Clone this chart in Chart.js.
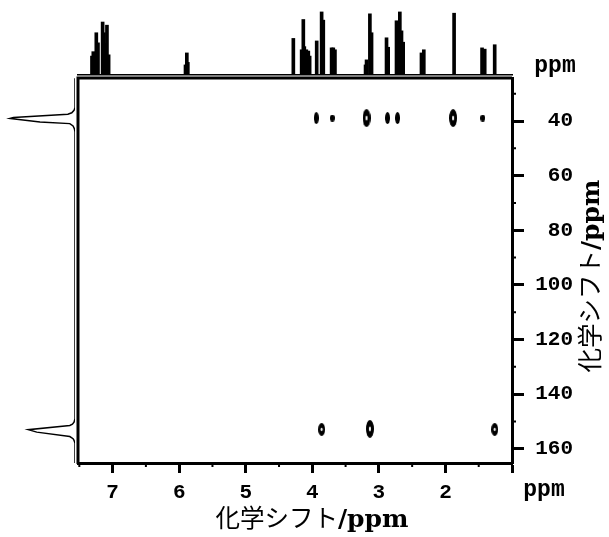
<!DOCTYPE html>
<html>
<head>
<meta charset="utf-8">
<script src="https://cdn.jsdelivr.net/npm/chart.js@4/dist/chart.umd.min.js"></script>
<style>
  html, body { margin: 0; padding: 0; background: #fff; }
  #wrap { position: relative; width: 609px; height: 537px; overflow: hidden; }
  #wrap canvas { position: absolute; left: 0; top: 0; }
</style>
</head>
<body>
<div id="wrap">
  <canvas id="main" width="609" height="537"></canvas>
  <canvas id="projH" width="609" height="80"></canvas>
  <canvas id="projC" width="80" height="537"></canvas>
</div>
<script>
// Axis ranges (ppm): 1H runs right-to-left, 13C runs top-to-bottom
const hRange = [1.0, 7.52];
const cRange = [24.25, 165.2];
const hTickLabels = [7, 6, 5, 4, 3, 2];
const cTickLabels = [40, 60, 80, 100, 120, 140, 160];

// 1H projection: line positions (ppm) and relative heights
const hPeakPpm = [7.31, 7.29, 7.26, 7.245, 7.22, 7.15, 7.13, 7.11, 7.085, 7.06,
                  5.905, 5.885, 5.87,
                  4.285, 4.16, 4.135, 4.12, 4.09, 4.06, 4.04, 3.934, 3.86, 3.835,
                  3.71, 3.685, 3.66,
                  3.20, 3.185, 3.135, 3.11, 2.885, 2.86, 2.735, 2.685, 2.66, 2.635,
                  2.36, 2.325, 1.87, 1.45, 1.41, 1.26];
const hPeakInt = [30, 37, 30, 67, 51, 84, 67, 50, 79, 32,
                  16, 35, 20,
                  58, 40, 88, 45, 40, 38, 30, 54, 100, 87,
                  43, 43, 40,
                  16, 24, 97, 67, 59, 44, 86, 100, 70, 52,
                  35, 40, 98, 43, 41, 48];

// 13C projection trace: shift (ppm) and relative intensity
const cTracePpm = [24.3, 35.0, 36.1, 37.0, 37.5, 38.75, 39.05, 40.35, 40.95, 41.8, 42.8, 44.0,
                   149.0, 150.25, 151.0, 151.45, 153.0, 153.9, 155.5, 156.3, 156.9, 158.0, 165.2];
const cTraceInt = [0, 0, 1.5, 5, 11, 95, 100, 54, 8, 3, 1, 0,
                   0, 1.5, 4, 8, 72, 59, 8, 3, 1.5, 0, 0];

// Cross peaks: 1H shift, 13C shift, contour level
const crossH = [3.94, 3.70, 3.185, 2.87, 2.72, 1.885, 1.44, 3.86, 3.135, 1.26];
const crossC = [38.9, 38.9, 38.9, 38.9, 38.9, 38.9, 38.9, 152.9, 152.7, 152.9];
const crossLevel = [2, 1, 4, 2, 2, 4, 1, 3, 4, 3];

// Contour blob glyphs per level: [width, height, hollow]
const blobShapes = { 1: [5, 7, false], 2: [5, 12, false], 3: [7, 13, true], 4: [8, 18, true] };
function makeBlob(w, h, hollow) {
  const c = document.createElement('canvas');
  c.width = w; c.height = h;
  const g = c.getContext('2d');
  g.fillStyle = '#000';
  g.beginPath(); g.ellipse(w / 2, h / 2, w / 2, h / 2, 0, 0, Math.PI * 2); g.fill();
  if (hollow) {
    g.fillStyle = '#fff';
    g.beginPath(); g.ellipse(w / 2, h / 2, 1, Math.max(1.5, h * 0.14), 0, 0, Math.PI * 2); g.fill();
  }
  return c;
}
const blobCache = {};
Object.keys(blobShapes).forEach(k => { const s = blobShapes[k]; blobCache[k] = makeBlob(s[0], s[1], s[2]); });

const black = '#000';
const tickFont = { family: '"Liberation Mono", "DejaVu Sans Mono", monospace', weight: 'bold', size: 21 };

// Frame, minor ticks, unit labels and axis titles
const decor = {
  id: 'decor',
  afterDraw(chart) {
    const { ctx, chartArea: a, scales: { x, y } } = chart;
    ctx.save();
    ctx.strokeStyle = black;
    ctx.lineWidth = 3;
    ctx.beginPath();
    ctx.moveTo(a.left, a.bottom + 1);
    ctx.lineTo(a.left, a.top);
    ctx.lineTo(a.right, a.top);
    ctx.stroke();

    ctx.lineWidth = 2;
    ctx.beginPath();
    x.ticks.forEach(t => {
      if (!Number.isInteger(t.value)) {
        const px = x.getPixelForValue(t.value);
        ctx.moveTo(px, a.bottom); ctx.lineTo(px, a.bottom + 4);
      }
    });
    y.ticks.forEach(t => {
      if (t.value % 20 !== 0) {
        const py = y.getPixelForValue(t.value);
        ctx.moveTo(a.right, py); ctx.lineTo(a.right + 4, py);
      }
    });
    ctx.stroke();

    ctx.fillStyle = black;
    ctx.font = 'bold 23px "Liberation Mono", monospace';
    ctx.textAlign = 'center';
    ctx.textBaseline = 'middle';
    ctx.fillText('ppm', 544, 490);
    ctx.fillText('ppm', 555, 66);

    const drawTitle = (cx, cy, rot) => {
      const jp = '化学シフト', unit = '/ppm';
      const fJp = '24.5px "Noto Sans CJK JP", sans-serif';
      const fUnit = 'bold 25px "DejaVu Serif", serif';
      ctx.font = fJp; const w1 = ctx.measureText(jp).width;
      ctx.font = fUnit; const w2 = ctx.measureText(unit).width;
      ctx.save();
      ctx.translate(cx, cy);
      ctx.rotate(rot);
      ctx.textAlign = 'left';
      ctx.textBaseline = 'alphabetic';
      const x0 = -(w1 + w2) / 2;
      ctx.font = fJp; ctx.fillText(jp, x0, 8);
      ctx.font = fUnit; ctx.fillText(unit, x0 + w1, 8);
      ctx.restore();
    };
    drawTitle(312, 519, 0);
    drawTitle(591, 276, -Math.PI / 2);
    ctx.restore();
  }
};

new Chart(document.getElementById('main'), {
  type: 'scatter',
  data: {
    datasets: [{
      data: crossH.map((h, i) => ({ x: h, y: crossC[i] })),
      pointStyle: crossLevel.map(l => blobCache[l]),
      pointRadius: 4,
      pointHoverRadius: 4
    }]
  },
  options: {
    responsive: false,
    animation: false,
    devicePixelRatio: 1,
    layout: { padding: { left: 78, top: 78, right: 36, bottom: 0 } },
    plugins: { legend: { display: false }, tooltip: { enabled: false } },
    scales: {
      x: {
        type: 'linear', position: 'bottom', reverse: true,
        min: hRange[0], max: hRange[1],
        afterFit: s => { s.height = 74; },
        ticks: {
          stepSize: 0.5, includeBounds: false, autoSkip: false, maxRotation: 0,
          padding: 7, color: black, font: tickFont,
          callback: v => hTickLabels.includes(v) ? String(v) : ''
        },
        grid: {
          drawOnChartArea: false, drawTicks: true, tickLength: 10, tickWidth: 3,
          tickColor: c => (c.tick && Number.isInteger(c.tick.value)) ? black : 'rgba(0,0,0,0)'
        },
        border: { display: true, color: black, width: 3 }
      },
      y: {
        type: 'linear', position: 'right', reverse: true,
        min: cRange[0], max: cRange[1],
        afterFit: s => { s.width = 61; },
        ticks: {
          stepSize: 10, includeBounds: false, autoSkip: false,
          padding: 10, crossAlign: 'far', color: black, font: tickFont,
          callback: v => cTickLabels.includes(v) ? String(v) : ''
        },
        grid: {
          drawOnChartArea: false, drawTicks: true, tickLength: 12, tickWidth: 3,
          tickColor: c => (c.tick && c.tick.value % 20 === 0) ? black : 'rgba(0,0,0,0)'
        },
        border: { display: true, color: black, width: 3 }
      }
    }
  },
  plugins: [decor]
});

// 1H projection along the top
new Chart(document.getElementById('projH'), {
  type: 'bar',
  data: {
    datasets: [{
      data: hPeakPpm.map((p, i) => ({ x: p, y: hPeakInt[i] })),
      backgroundColor: black,
      borderWidth: 0,
      barThickness: 3
    }]
  },
  options: {
    responsive: false,
    animation: false,
    devicePixelRatio: 1,
    layout: { padding: { left: 78, right: 97, top: 5, bottom: 5 } },
    plugins: { legend: { display: false }, tooltip: { enabled: false } },
    scales: {
      x: {
        type: 'linear', reverse: true, min: hRange[0], max: hRange[1], offset: false,
        afterFit: s => { s.height = 0; },
        ticks: { display: false },
        grid: { display: false, drawTicks: false, offset: false },
        border: { display: true, color: black, width: 1.5 }
      },
      y: { display: false, min: 0, max: 111 }
    }
  }
});

// 13C projection along the left side
new Chart(document.getElementById('projC'), {
  type: 'scatter',
  data: {
    datasets: [{
      data: cTracePpm.map((p, i) => ({ x: cTraceInt[i], y: p })),
      showLine: true,
      borderColor: black,
      borderWidth: 1.5,
      pointRadius: 0,
      tension: 0
    }]
  },
  options: {
    responsive: false,
    animation: false,
    devicePixelRatio: 1,
    layout: { padding: { left: 5, right: 5, top: 78, bottom: 74 } },
    plugins: { legend: { display: false }, tooltip: { enabled: false } },
    scales: {
      x: { display: false, reverse: true, min: 0, max: 108 },
      y: { display: false, reverse: true, min: cRange[0], max: cRange[1] }
    }
  }
});
</script>
</body>
</html>
